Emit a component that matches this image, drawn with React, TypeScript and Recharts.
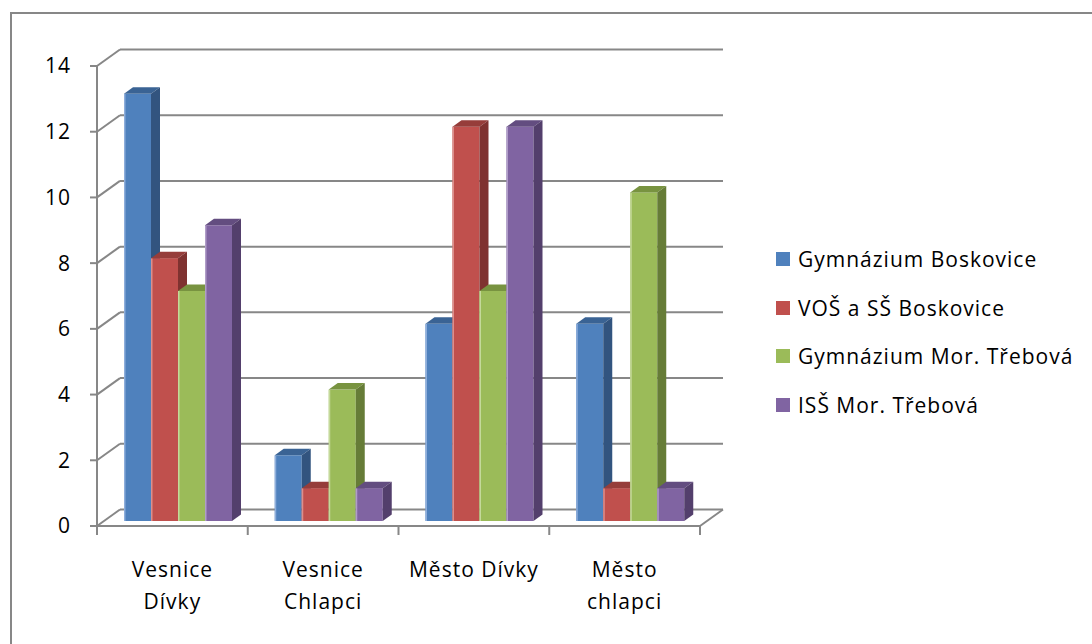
import React from "react";
import { BarChart, Bar, XAxis, YAxis, CartesianGrid, Legend } from "recharts";

const categories = ["Vesnice Dívky", "Vesnice Chlapci", "Město Dívky", "Město chlapci"];
const categoryLines = [["Vesnice", "Dívky"], ["Vesnice", "Chlapci"], ["Město Dívky"], ["Město", "chlapci"]];
const seriesNames = ["Gymnázium Boskovice", "VOŠ a SŠ Boskovice", "Gymnázium Mor. Třebová", "ISŠ Mor. Třebová"];

const gymBoskovice = [13, 2, 6, 6];
const vosBoskovice = [8, 1, 12, 1];
const gymTrebova = [7, 4, 7, 10];
const issTrebova = [9, 1, 12, 1];

const yTicks = [0, 2, 4, 6, 8, 10, 12, 14];

// front / top / side shades, Office 2007 palette
const palette = [
  { front: "#4f81bd", top: "#3a6394", side: "#32547f", light: "#8eaedb" },
  { front: "#c0504d", top: "#963d3a", side: "#7f3230", light: "#dc8f8c" },
  { front: "#9bbb59", top: "#789340", side: "#667c37", light: "#c4d99a" },
  { front: "#8064a2", top: "#634d80", side: "#533f6c", light: "#b09dc8" },
];

const data = categories.map((c, i) => ({
  name: c,
  s0: gymBoskovice[i],
  s1: vosBoskovice[i],
  s2: gymTrebova[i],
  s3: issTrebova[i],
}));

const FONT = "'Open Sans', 'Noto Sans', sans-serif";
const GRID = "#878787";
// offset of the back wall and of the bar depth
const WALL_X = 23;
const WALL_Y = -16.5;
const SHIFT_X = 6;
const SHIFT_Y = -5;
const DEPTH_X = 9;
const DEPTH_Y = -6.5;

function box3d(colors: (typeof palette)[number]) {
  return (props: any) => {
    const { x, y, width, height } = props;
    if (!height || height <= 0) return <g />;
    const fx = x + SHIFT_X;
    const fy = y + SHIFT_Y;
    const w = width;
    const h = height;
    const top = `${fx},${fy} ${fx + DEPTH_X},${fy + DEPTH_Y} ${fx + w + DEPTH_X},${fy + DEPTH_Y} ${fx + w},${fy}`;
    const side = `${fx + w},${fy} ${fx + w + DEPTH_X},${fy + DEPTH_Y} ${fx + w + DEPTH_X},${fy + h + DEPTH_Y} ${fx + w},${fy + h}`;
    return (
      <g>
        <rect x={fx} y={fy} width={w} height={h} fill={colors.front} />
        <line x1={fx + 0.75} y1={fy} x2={fx + 0.75} y2={fy + h} stroke={colors.light} strokeWidth={1.5} />
        <polygon points={top} fill={colors.top} />
        <polygon points={side} fill={colors.side} />
      </g>
    );
  };
}

// back-wall gridline + the diagonal from the front axis; the floor also gets the front edge and category ticks
function wallLine(props: any) {
  const { x1, x2, y1, y, height, index } = props;
  const floor = Math.abs(y1 - (y + height)) < 0.5;
  const n = categories.length;
  const step = (x2 - x1) / n;
  return (
    <g key={`wall-${index}`}>
      <line x1={x1} y1={y1} x2={x1 + WALL_X} y2={y1 + WALL_Y} stroke={GRID} strokeWidth={2} />
      <line x1={x1 + WALL_X} y1={y1 + WALL_Y} x2={x2 + WALL_X} y2={y1 + WALL_Y} stroke={GRID} strokeWidth={2} />
      {floor && (
        <g>
          <line x1={x2} y1={y1} x2={x2 + WALL_X} y2={y1 + WALL_Y} stroke={GRID} strokeWidth={2} />
          <line x1={x1} y1={y1} x2={x2} y2={y1} stroke={GRID} strokeWidth={2} />
          {Array.from({ length: n + 1 }, (_, i) => (
            <line key={i} x1={x1 + i * step} y1={y1} x2={x1 + i * step} y2={y1 + 9} stroke={GRID} strokeWidth={2} />
          ))}
        </g>
      )}
    </g>
  );
}

function CategoryTick(props: any) {
  const { x, y, index } = props;
  const lines = categoryLines[index] || [];
  return (
    <text x={x} y={y} textAnchor="middle" fill="#000" fontSize={21} fontFamily={FONT} letterSpacing={1}>
      {lines.map((l, i) => (
        <tspan key={i} x={x} y={y + 51 + i * 32}>
          {l}
        </tspan>
      ))}
    </text>
  );
}

function LegendBox(props: any) {
  const items = [...(props.payload || [])].sort(
    (a: any, b: any) => seriesNames.indexOf(a.value) - seriesNames.indexOf(b.value)
  );
  return (
    <div style={{ fontFamily: FONT, fontSize: 21, color: "#000" }}>
      {items.map((e: any, i: number) => (
        <div key={i} style={{ display: "flex", alignItems: "center", height: 48.5, whiteSpace: "nowrap" }}>
          <span style={{ width: 14, height: 14, background: e.color, marginRight: 8, display: "inline-block" }} />
          <span style={{ letterSpacing: 1 }}>{e.value}</span>
        </div>
      ))}
    </div>
  );
}

export default function App() {
  return (
    <div style={{ position: "absolute", left: 0, top: 0, width: 1092, height: 644, overflow: "hidden", background: "#fff" }}>
      <div
        style={{
          position: "absolute",
          left: 10,
          top: 12,
          width: 1200,
          height: 800,
          borderLeft: `2px solid ${GRID}`,
          borderTop: `2px solid ${GRID}`,
        }}
      />
      <BarChart
        width={1092}
        height={644}
        data={data}
        margin={{ top: 66, right: 392, bottom: 0, left: 17 }}
        barCategoryGap={21}
        barGap={0}
        style={{ position: "absolute", left: 0, top: 0, fontFamily: FONT }}
      >
        <CartesianGrid horizontal={wallLine} vertical={false} />
        <XAxis
          dataKey="name"
          height={118}
          axisLine={false}
          tickLine={false}
          tickSize={0}
          tickMargin={0}
          interval={0}
          tick={<CategoryTick />}
        />
        <YAxis
          domain={[0, 14]}
          ticks={yTicks}
          width={80}
          tickSize={7}
          tickMargin={19}
          axisLine={{ stroke: GRID, strokeWidth: 2 }}
          tickLine={{ stroke: GRID, strokeWidth: 2 }}
          tick={{ fill: "#000", fontSize: 21, fontFamily: FONT, letterSpacing: 1 }}
        />
        <Legend
          layout="vertical"
          align="center"
          verticalAlign="middle"
          content={<LegendBox />}
          wrapperStyle={{ left: 776, top: 234.75, width: 320 }}
        />
        {palette.map((c, i) => (
          <Bar
            key={i}
            dataKey={`s${i}`}
            name={seriesNames[i]}
            fill={c.front}
            legendType="square"
            shape={box3d(c)}
            isAnimationActive={false}
          />
        ))}
      </BarChart>
    </div>
  );
}
